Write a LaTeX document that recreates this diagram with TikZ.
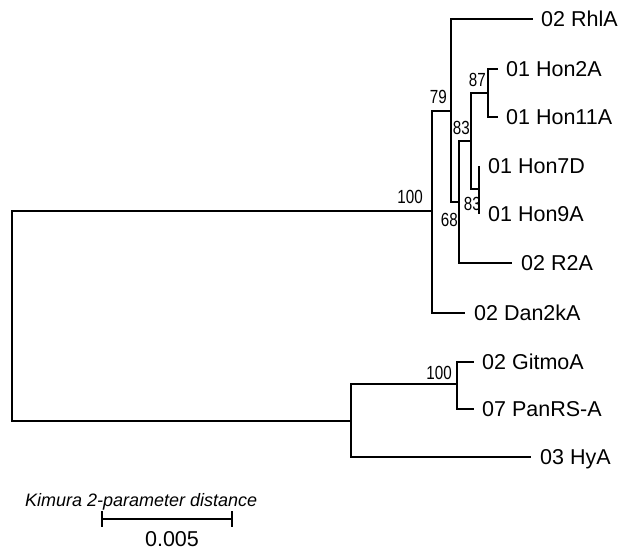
\documentclass[tikz,border=0pt]{standalone}
\usepackage{fontspec}
\setmainfont{Liberation Sans}
\usepackage{graphicx}
\begin{document}
\begin{tikzpicture}[x=1pt,y=-1pt,
  branch/.style={line width=2.6pt},
  tiplabel/.style={anchor=base west, inner sep=0pt, font=\fontsize{21.5}{24}\selectfont},
  boot/.style={anchor=base east, inner sep=0pt, font=\fontsize{19}{21}\selectfont},
]
\useasboundingbox (0,0) rectangle (622,550);
% internal nodes
\coordinate (root) at (12,316);
\coordinate (nA) at (432,211);
\coordinate (n79) at (451,111);
\coordinate (n68) at (459,202);
\coordinate (n83a) at (471,141);
\coordinate (n87) at (488,93);
\coordinate (n83b) at (479,189);
\coordinate (nB) at (351,421);
\coordinate (n100b) at (457,384);
% tips
\coordinate (tRhlA) at (533,19);
\coordinate (tHon2A) at (498,69);
\coordinate (tHon11A) at (498,117);
\coordinate (tHon7D) at (479,166);
\coordinate (tHon9A) at (479,214);
\coordinate (tR2A) at (512,263);
\coordinate (tDan) at (465,313);
\coordinate (tGit) at (474,362);
\coordinate (tPan) at (474,409);
\coordinate (tHyA) at (531,457);
% branches
\draw[branch] (root) |- (nA);
\draw[branch] (root) |- (nB);
\draw[branch] (nA) |- (n79);
\draw[branch] (nA) |- (tDan);
\draw[branch] (n79) |- (tRhlA);
\draw[branch] (n79) |- (n68);
\draw[branch] (n68) |- (n83a);
\draw[branch] (n68) |- (tR2A);
\draw[branch] (n83a) |- (n87);
\draw[branch] (n83a) |- (n83b);
\draw[branch] (n87) |- (tHon2A);
\draw[branch] (n87) |- (tHon11A);
\draw[branch] (n83b) -- (tHon7D);
\draw[branch] (n83b) -- (tHon9A);
\draw[branch] (nB) |- (n100b);
\draw[branch] (nB) |- (tHyA);
\draw[branch] (n100b) |- (tGit);
\draw[branch] (n100b) |- (tPan);
% tip labels
\node[tiplabel] (lRhlA) at ([xshift=8pt,yshift=-7.5pt]tRhlA) {02 RhlA};
\node[tiplabel] (lHon2A) at ([xshift=8pt,yshift=-7.5pt]tHon2A) {01 Hon2A};
\node[tiplabel] (lHon11A) at ([xshift=8pt,yshift=-7.5pt]tHon11A) {01 Hon11A};
\node[tiplabel] (lHon7D) at ([xshift=9pt,yshift=-7.5pt]tHon7D) {01 Hon7D};
\node[tiplabel] (lHon9A) at ([xshift=9pt,yshift=-7.5pt]tHon9A) {01 Hon9A};
\node[tiplabel] (lR2A) at ([xshift=9pt,yshift=-7.5pt]tR2A) {02 R2A};
\node[tiplabel] (lDan) at ([xshift=9pt,yshift=-7.5pt]tDan) {02 Dan2kA};
\node[tiplabel] (lGit) at ([xshift=8pt,yshift=-7.5pt]tGit) {02 GitmoA};
\node[tiplabel] (lPan) at ([xshift=8pt,yshift=-7.5pt]tPan) {07 PanRS-A};
\node[tiplabel] (lHyA) at ([xshift=9pt,yshift=-7.5pt]tHyA) {03 HyA};
% bootstrap values
\node[boot] (b100a) at ([xshift=-9pt,yshift=8pt]nA) {\scalebox{0.8}[1]{100}};
\node[boot] (b79) at ([xshift=-4pt,yshift=8pt]n79) {\scalebox{0.8}[1]{79}};
\node[boot] (b87) at ([xshift=-2pt,yshift=7pt]n87) {\scalebox{0.8}[1]{87}};
\node[boot] (b83a) at ([xshift=-1pt,yshift=7pt]n83a) {\scalebox{0.8}[1]{83}};
\node[boot] (b83b) at ([xshift=2pt,yshift=-21pt]n83b) {\scalebox{0.8}[1]{83}};
\node[boot] (b68) at ([xshift=-1pt,yshift=-24pt]n68) {\scalebox{0.8}[1]{68}};
\node[boot] (b100b) at ([xshift=-5pt,yshift=5pt]n100b) {\scalebox{0.8}[1]{100}};
% scale bar
\coordinate (sbL) at (102,519);
\coordinate (sbR) at (232,519);
\draw[branch] (sbL) -- (sbR);
\draw[branch] ([yshift=8pt]sbL) -- ([yshift=-8pt]sbL);
\draw[branch] ([yshift=8pt]sbR) -- ([yshift=-8pt]sbR);
\node[anchor=base west, inner sep=0pt, font=\itshape\fontsize{18}{20}\selectfont] (sbtitle) at (25,506) {Kimura 2-parameter distance};
\node[anchor=base, inner sep=0pt, font=\fontsize{21.5}{24}\selectfont] (sbval) at (172,546) {0.005};
\end{tikzpicture}
\end{document}
